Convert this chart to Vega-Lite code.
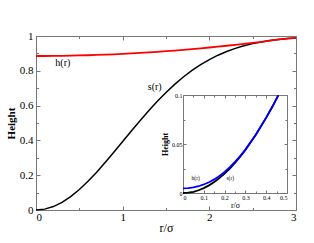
{
  "$schema": "https://vega.github.io/schema/vega-lite/v6.json",
  "width": 260,
  "height": 174,
  "autosize": "none",
  "padding": {"left": 36, "top": 36, "right": 18, "bottom": 33},
  "background": "white",
  "config": {
    "view": {"stroke": "#777", "strokeWidth": 1},
    "font": "Liberation Serif",
    "axis": {"grid": false, "labelColor": "black", "titleColor": "black", "tickColor": "#777", "domainColor": "#777"}
  },
  "datasets": {
    "main": [
      {"r": 0.0, "s": 0.0, "h": 0.885},
      {"r": 0.1, "s": 0.005, "h": 0.8851},
      {"r": 0.2, "s": 0.0198, "h": 0.8855},
      {"r": 0.3, "s": 0.044, "h": 0.8861},
      {"r": 0.4, "s": 0.0769, "h": 0.887},
      {"r": 0.5, "s": 0.1175, "h": 0.8881},
      {"r": 0.6, "s": 0.1647, "h": 0.8894},
      {"r": 0.7, "s": 0.2173, "h": 0.891},
      {"r": 0.8, "s": 0.2739, "h": 0.8928},
      {"r": 0.9, "s": 0.333, "h": 0.8949},
      {"r": 1.0, "s": 0.3935, "h": 0.8972},
      {"r": 1.1, "s": 0.4539, "h": 0.8998},
      {"r": 1.2, "s": 0.5132, "h": 0.9026},
      {"r": 1.3, "s": 0.5704, "h": 0.9056},
      {"r": 1.4, "s": 0.6247, "h": 0.9089},
      {"r": 1.5, "s": 0.6753, "h": 0.9125},
      {"r": 1.6, "s": 0.722, "h": 0.9162},
      {"r": 1.7, "s": 0.7643, "h": 0.9203},
      {"r": 1.8, "s": 0.8021, "h": 0.9245},
      {"r": 1.9, "s": 0.8355, "h": 0.929},
      {"r": 2.0, "s": 0.8647, "h": 0.9338},
      {"r": 2.1, "s": 0.8897, "h": 0.9388},
      {"r": 2.2, "s": 0.9111, "h": 0.944},
      {"r": 2.3, "s": 0.929, "h": 0.9495},
      {"r": 2.4, "s": 0.9439, "h": 0.9553},
      {"r": 2.5, "s": 0.9561, "h": 0.961},
      {"r": 2.6, "s": 0.966, "h": 0.9668},
      {"r": 2.7, "s": 0.9739, "h": 0.974},
      {"r": 2.8, "s": 0.9802, "h": 0.9802},
      {"r": 2.9, "s": 0.9851, "h": 0.9851},
      {"r": 3.0, "s": 0.9889, "h": 0.9889}
    ],
    "inset": [
      {"r": 0.0, "s": 0.0, "h": 0.0048},
      {"r": 0.025, "s": 0.0003, "h": 0.005},
      {"r": 0.05, "s": 0.00125, "h": 0.0058},
      {"r": 0.075, "s": 0.0028, "h": 0.0069},
      {"r": 0.1, "s": 0.005, "h": 0.0087},
      {"r": 0.125, "s": 0.0078, "h": 0.011},
      {"r": 0.15, "s": 0.0112, "h": 0.0139},
      {"r": 0.175, "s": 0.0152, "h": 0.0174},
      {"r": 0.2, "s": 0.0198, "h": 0.0215},
      {"r": 0.225, "s": 0.025, "h": 0.0263},
      {"r": 0.25, "s": 0.0308, "h": 0.0317},
      {"r": 0.275, "s": 0.0371, "h": 0.0377},
      {"r": 0.3, "s": 0.044, "h": 0.0443},
      {"r": 0.35, "s": 0.0594, "h": 0.0594},
      {"r": 0.4, "s": 0.0769, "h": 0.0769},
      {"r": 0.43, "s": 0.0882, "h": 0.0882},
      {"r": 0.458, "s": 0.0996, "h": 0.0996}
    ],
    "mainLabels": [
      {"label": "h(r)", "r": 0.31, "height": 0.843},
      {"label": "s(r)", "r": 1.37, "height": 0.709}
    ],
    "insetLabels": [
      {"label": "h(r)", "r": 0.061, "height": 0.0153},
      {"label": "s(r)", "r": 0.227, "height": 0.0156}
    ]
  },
  "layer": [
    {
      "data": {"name": "main"},
      "mark": {"type": "line", "color": "black", "strokeWidth": 1.5},
      "encoding": {
        "x": {
          "field": "r", "type": "quantitative",
          "scale": {"domain": [0, 3], "nice": false},
          "axis": {
            "orient": "bottom", "domain": false,
            "values": [0, 0.5, 1, 1.5, 2, 2.5, 3],
            "labelExpr": "datum.value % 1 === 0 ? toString(datum.value) : ''",
            "tickSize": {"condition": {"test": "datum.value % 1 === 0", "value": -4}, "value": -2.5},
            "labelFontSize": 11, "labelPadding": 5,
            "title": "r/σ", "titleFontSize": 12, "titleFontWeight": "normal", "titlePadding": 0
          }
        },
        "y": {
          "field": "s", "type": "quantitative",
          "scale": {"domain": [0, 1], "nice": false},
          "axis": {
            "orient": "left", "domain": false,
            "values": [0, 0.1, 0.2, 0.3, 0.4, 0.5, 0.6, 0.7, 0.8, 0.9, 1],
            "labelExpr": "round(datum.value * 10) % 2 === 0 ? toString(datum.value) : ''",
            "tickSize": {"condition": {"test": "round(datum.value * 10) % 2 === 0", "value": -4}, "value": -2.5},
            "labelFontSize": 11, "labelPadding": 7,
            "title": "Height", "titleFontSize": 11, "titleFontWeight": "bold", "titlePadding": 3
          }
        }
      }
    },
    {
      "data": {"name": "main"},
      "mark": {"type": "line", "color": "#ff0000", "strokeWidth": 1.8},
      "encoding": {
        "x": {
          "field": "r", "type": "quantitative",
          "scale": {"domain": [0, 3], "nice": false},
          "axis": {
            "orient": "top", "domain": false, "labels": false, "title": null,
            "values": [0, 0.5, 1, 1.5, 2, 2.5, 3],
            "tickSize": {"condition": {"test": "datum.value % 1 === 0", "value": -4}, "value": -2.5}
          }
        },
        "y": {
          "field": "h", "type": "quantitative",
          "scale": {"domain": [0, 1], "nice": false},
          "axis": {
            "orient": "right", "domain": false, "labels": false, "title": null,
            "values": [0, 0.1, 0.2, 0.3, 0.4, 0.5, 0.6, 0.7, 0.8, 0.9, 1],
            "tickSize": {"condition": {"test": "round(datum.value * 10) % 2 === 0", "value": -4}, "value": -2.5}
          }
        }
      }
    },
    {
      "data": {"name": "mainLabels"},
      "mark": {"type": "text", "fontSize": 10, "color": "black"},
      "encoding": {
        "x": {"field": "r", "type": "quantitative", "scale": {"domain": [0, 3], "nice": false}, "axis": null},
        "y": {"field": "height", "type": "quantitative", "scale": {"domain": [0, 1], "nice": false}, "axis": null},
        "text": {"field": "label"}
      }
    },
    {
      "data": {"name": "inset"},
      "mark": {"type": "line", "color": "black", "strokeWidth": 1.8},
      "encoding": {
        "x": {
          "field": "r", "type": "quantitative",
          "scale": {"domain": [0, 0.5], "range": [147, 251], "nice": false},
          "axis": {
            "orient": "bottom", "offset": -17, "domain": true,
            "values": [0, 0.05, 0.1, 0.15, 0.2, 0.25, 0.3, 0.35, 0.4, 0.45, 0.5],
            "labelExpr": "round(datum.value * 100) % 10 === 0 ? toString(datum.value) : ''",
            "tickSize": {"condition": {"test": "round(datum.value * 100) % 10 === 0", "value": -3}, "value": -2},
            "labelFontSize": 6, "labelPadding": 4,
            "title": "r/σ", "titleFontSize": 8, "titleFontWeight": "normal", "titlePadding": 1
          }
        },
        "y": {
          "field": "s", "type": "quantitative",
          "scale": {"domain": [0, 0.1], "range": [157, 59], "nice": false},
          "axis": {
            "orient": "left", "offset": -147, "domain": true,
            "values": [0, 0.025, 0.05, 0.075, 0.1],
            "labelExpr": "round(datum.value * 1000) % 50 === 0 ? toString(datum.value) : ''",
            "tickSize": {"condition": {"test": "round(datum.value * 1000) % 50 === 0", "value": -3}, "value": -2},
            "labelFontSize": 6, "labelPadding": 4,
            "title": "Height", "titleFontSize": 8, "titleFontWeight": "bold", "titlePadding": 2
          }
        }
      }
    },
    {
      "data": {"name": "inset"},
      "mark": {"type": "line", "color": "#0000ff", "strokeWidth": 1.8},
      "encoding": {
        "x": {
          "field": "r", "type": "quantitative",
          "scale": {"domain": [0, 0.5], "range": [147, 251], "nice": false},
          "axis": {
            "orient": "top", "offset": -59, "domain": true, "labels": false, "title": null,
            "values": [0, 0.05, 0.1, 0.15, 0.2, 0.25, 0.3, 0.35, 0.4, 0.45, 0.5],
            "tickSize": {"condition": {"test": "round(datum.value * 100) % 10 === 0", "value": -3}, "value": -2}
          }
        },
        "y": {
          "field": "h", "type": "quantitative",
          "scale": {"domain": [0, 0.1], "range": [157, 59], "nice": false},
          "axis": {
            "orient": "right", "offset": -9, "domain": true, "labels": false, "title": null,
            "values": [0, 0.025, 0.05, 0.075, 0.1],
            "tickSize": {"condition": {"test": "round(datum.value * 1000) % 50 === 0", "value": -3}, "value": -2}
          }
        }
      }
    },
    {
      "data": {"name": "insetLabels"},
      "mark": {"type": "text", "fontSize": 5.5, "color": "black"},
      "encoding": {
        "x": {"field": "r", "type": "quantitative", "scale": {"domain": [0, 0.5], "range": [147, 251], "nice": false}, "axis": null},
        "y": {"field": "height", "type": "quantitative", "scale": {"domain": [0, 0.1], "range": [157, 59], "nice": false}, "axis": null},
        "text": {"field": "label"}
      }
    }
  ],
  "resolve": {
    "scale": {"x": "independent", "y": "independent"},
    "axis": {"x": "independent", "y": "independent"}
  }
}
